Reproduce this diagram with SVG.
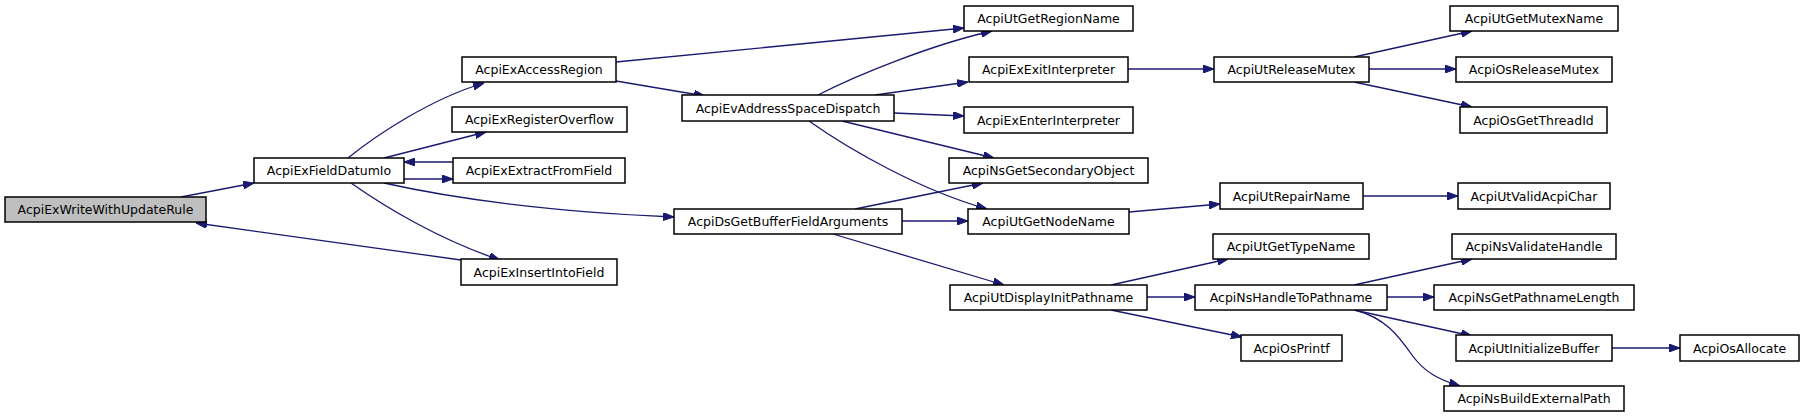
<svg xmlns="http://www.w3.org/2000/svg" width="1804" height="417" viewBox="0 0 1804 417">
<style>
.n rect{fill:#ffffff;stroke:#000000;stroke-width:1.5}
.n.root rect{fill:#bfbfbf}
.n text{font-family:"DejaVu Sans","Liberation Sans",sans-serif;font-size:12.5px;fill:#000000;text-anchor:middle}
.e path{fill:none;stroke:#191970;stroke-width:1.3;marker-end:url(#arr)}
</style>
<defs>
<marker id="arr" viewBox="0 0 11 8" refX="11" refY="4" markerWidth="11" markerHeight="8" markerUnits="userSpaceOnUse" orient="auto">
<path d="M0,0 L11,4 L0,8 z" fill="#191970" stroke="#191970" stroke-width="1"/>
</marker>
</defs>
<rect width="1804" height="417" fill="#ffffff"/>
<g id="edges" class="e">
<path d="M181,197 L254,183"/>
<path d="M461,260 L196,223"/>
<path d="M348,158 C375,136 430,99 484,83"/>
<path d="M384,158 L486,132"/>
<path d="M453,162 L404,162"/>
<path d="M404,179 L453,179"/>
<path d="M384,183 C460,200 560,212 674,217"/>
<path d="M351,183 C385,207 440,240 500,260"/>
<path d="M616,62 L964,28"/>
<path d="M616,81 L705,96"/>
<path d="M818,95 C855,76 930,45 992,31"/>
<path d="M875,95 L968,82"/>
<path d="M894,113 L964,116"/>
<path d="M842,121 L994,158"/>
<path d="M809,121 C850,150 920,190 987,209"/>
<path d="M855,209 L983,183"/>
<path d="M902,221 L968,221"/>
<path d="M833,234 L1004,285"/>
<path d="M1128,69 L1214,69"/>
<path d="M1354,57 L1472,31"/>
<path d="M1369,69 L1456,69"/>
<path d="M1354,82 L1472,107"/>
<path d="M1129,212 L1220,204"/>
<path d="M1363,196 L1458,196"/>
<path d="M1111,285 L1228,259"/>
<path d="M1147,297 L1195,297"/>
<path d="M1111,310 L1242,337"/>
<path d="M1354,285 L1472,259"/>
<path d="M1387,297 L1434,297"/>
<path d="M1354,310 L1472,336"/>
<path d="M1355,310 C1385,318 1398,335 1412,355 C1425,373 1440,380 1460,386"/>
<path d="M1612,348 L1680,348"/>
</g>
<g id="n0" class="n root"><rect x="5" y="197" width="201" height="25"/><text x="105.5" y="214">AcpiExWriteWithUpdateRule</text></g>
<g id="n1" class="n"><rect x="254" y="158" width="150" height="25"/><text x="329" y="175">AcpiExFieldDatumIo</text></g>
<g id="n2" class="n"><rect x="462" y="57" width="154" height="25"/><text x="539" y="74">AcpiExAccessRegion</text></g>
<g id="n3" class="n"><rect x="452" y="107" width="175" height="25"/><text x="539.5" y="124">AcpiExRegisterOverflow</text></g>
<g id="n4" class="n"><rect x="453" y="158" width="172" height="25"/><text x="539" y="175">AcpiExExtractFromField</text></g>
<g id="n5" class="n"><rect x="461" y="259" width="156" height="26"/><text x="539" y="277">AcpiExInsertIntoField</text></g>
<g id="n6" class="n"><rect x="964" y="6" width="169" height="25"/><text x="1048.5" y="23">AcpiUtGetRegionName</text></g>
<g id="n7" class="n"><rect x="969" y="57" width="159" height="25"/><text x="1048.5" y="74">AcpiExExitInterpreter</text></g>
<g id="n8" class="n"><rect x="682" y="95" width="212" height="26"/><text x="788" y="113">AcpiEvAddressSpaceDispatch</text></g>
<g id="n9" class="n"><rect x="964" y="107" width="169" height="26"/><text x="1048.5" y="125">AcpiExEnterInterpreter</text></g>
<g id="n10" class="n"><rect x="949" y="158" width="199" height="25"/><text x="1048.5" y="175">AcpiNsGetSecondaryObject</text></g>
<g id="n11" class="n"><rect x="674" y="209" width="228" height="25"/><text x="788" y="226">AcpiDsGetBufferFieldArguments</text></g>
<g id="n12" class="n"><rect x="968" y="209" width="161" height="25"/><text x="1048.5" y="226">AcpiUtGetNodeName</text></g>
<g id="n13" class="n"><rect x="950" y="285" width="197" height="25"/><text x="1048.5" y="302">AcpiUtDisplayInitPathname</text></g>
<g id="n14" class="n"><rect x="1214" y="57" width="155" height="25"/><text x="1291.5" y="74">AcpiUtReleaseMutex</text></g>
<g id="n15" class="n"><rect x="1450" y="6" width="168" height="25"/><text x="1534" y="23">AcpiUtGetMutexName</text></g>
<g id="n16" class="n"><rect x="1456" y="57" width="156" height="25"/><text x="1534" y="74">AcpiOsReleaseMutex</text></g>
<g id="n17" class="n"><rect x="1460" y="107" width="147" height="26"/><text x="1533.5" y="125">AcpiOsGetThreadId</text></g>
<g id="n18" class="n"><rect x="1220" y="183" width="143" height="26"/><text x="1291.5" y="201">AcpiUtRepairName</text></g>
<g id="n19" class="n"><rect x="1458" y="183" width="152" height="26"/><text x="1534" y="201">AcpiUtValidAcpiChar</text></g>
<g id="n20" class="n"><rect x="1213" y="234" width="156" height="25"/><text x="1291" y="251">AcpiUtGetTypeName</text></g>
<g id="n21" class="n"><rect x="1452" y="234" width="164" height="25"/><text x="1534" y="251">AcpiNsValidateHandle</text></g>
<g id="n22" class="n"><rect x="1195" y="285" width="192" height="25"/><text x="1291" y="302">AcpiNsHandleToPathname</text></g>
<g id="n23" class="n"><rect x="1434" y="285" width="200" height="25"/><text x="1534" y="302">AcpiNsGetPathnameLength</text></g>
<g id="n24" class="n"><rect x="1241" y="335" width="101" height="26"/><text x="1291.5" y="353">AcpiOsPrintf</text></g>
<g id="n25" class="n"><rect x="1456" y="335" width="156" height="26"/><text x="1534" y="353">AcpiUtInitializeBuffer</text></g>
<g id="n26" class="n"><rect x="1680" y="335" width="119" height="26"/><text x="1739.5" y="353">AcpiOsAllocate</text></g>
<g id="n27" class="n"><rect x="1444" y="386" width="180" height="25"/><text x="1534" y="403">AcpiNsBuildExternalPath</text></g>
</svg>
